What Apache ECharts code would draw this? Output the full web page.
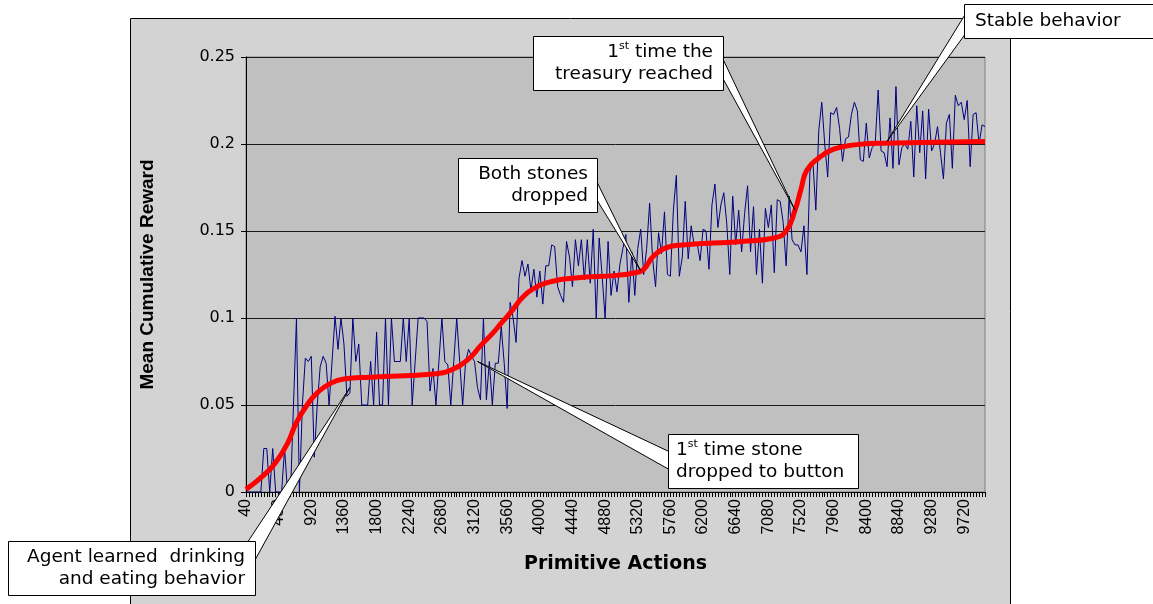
<!DOCTYPE html>
<html><head><meta charset="utf-8">
<script src="https://cdn.jsdelivr.net/npm/echarts@6/dist/echarts.min.js"></script>
<style>html,body{margin:0;padding:0;background:#fff;}#c{width:1153px;height:604px;}</style>
</head><body><div id="c"></div>
<script>
// x categories: primitive actions 40 .. 10000, step 40
const categories = [];
for (let v = 40; v <= 10000; v += 40) categories.push(String(v));

// mean cumulative reward per sample (blue)
const rewardValues = [
  0, 0, 0, 0, 0, 0, 0.025, 0.025, 0, 0.025,
  0, 0, 0, 0.025, 0, 0, 0.05, 0.1, 0, 0.05,
  0.077, 0.075, 0.078, 0.02, 0.05, 0.072, 0.078, 0.074, 0.05, 0.075,
  0.101, 0.082, 0.1, 0.085, 0.055, 0.057, 0.1, 0.075, 0.085, 0.05,
  0.05, 0.05, 0.075, 0.05, 0.092, 0.05, 0.05, 0.1, 0.05, 0.1,
  0.075, 0.075, 0.075, 0.1, 0.075, 0.1, 0.05, 0.075, 0.1, 0.1,
  0.1, 0.098, 0.058, 0.071, 0.05, 0.075, 0.1, 0.075, 0.073, 0.05,
  0.075, 0.1, 0.075, 0.05, 0.075, 0.082, 0.078, 0.075, 0.06, 0.053,
  0.1, 0.053, 0.075, 0.05, 0.074, 0.074, 0.095, 0.074, 0.048, 0.109,
  0.1, 0.086, 0.123, 0.133, 0.124, 0.131, 0.116, 0.128, 0.112, 0.127,
  0.108, 0.13, 0.13, 0.142, 0.141, 0.118, 0.113, 0.109, 0.144, 0.135,
  0.118, 0.145, 0.13, 0.145, 0.122, 0.145, 0.12, 0.151, 0.1, 0.146,
  0.124, 0.1, 0.144, 0.113, 0.127, 0.115, 0.131, 0.14, 0.148, 0.109,
  0.138, 0.113, 0.14, 0.151, 0.125, 0.14, 0.166, 0.134, 0.118, 0.149,
  0.137, 0.161, 0.125, 0.124, 0.162, 0.182, 0.124, 0.135, 0.167, 0.134,
  0.153, 0.142, 0.143, 0.133, 0.151, 0.15, 0.128, 0.165, 0.177, 0.152,
  0.165, 0.172, 0.154, 0.125, 0.17, 0.142, 0.162, 0.138, 0.16, 0.176,
  0.138, 0.164, 0.125, 0.151, 0.12, 0.163, 0.152, 0.165, 0.126, 0.168,
  0.167, 0.155, 0.13, 0.17, 0.145, 0.142, 0.142, 0.138, 0.153, 0.125,
  0.184, 0.19, 0.162, 0.208, 0.224, 0.2, 0.181, 0.218, 0.217, 0.221,
  0.209, 0.19, 0.203, 0.204, 0.217, 0.224, 0.219, 0.191, 0.19, 0.212,
  0.192, 0.198, 0.2, 0.231, 0.196, 0.195, 0.187, 0.215, 0.186, 0.233,
  0.188, 0.198, 0.2, 0.197, 0.213, 0.181, 0.222, 0.195, 0.219, 0.18,
  0.22, 0.196, 0.2, 0.21, 0.195, 0.18, 0.212, 0.217, 0.186, 0.228,
  0.222, 0.224, 0.214, 0.225, 0.187, 0.217, 0.218, 0.2, 0.211, 0.21
];

// smoothed trend (red), read at key actions
const trendActions = ['40','280','440','600','720','880','1000','1160','1360','1720','2600','2800','3040','3200','3360','3480','3640','3760','3920','4160','4480','5040','5280','5400','5520','5680','5920','6720','7160','7320','7440','7520','7600','7760','7960','8240','8640','10000'];
const trendValues  = [0.0015,0.0097,0.017,0.028,0.040,0.051,0.057,0.062,0.065,0.066,0.068,0.070,0.0765,0.084,0.091,0.097,0.105,0.1115,0.117,0.121,0.123,0.1245,0.126,0.128,0.135,0.140,0.142,0.144,0.146,0.150,0.162,0.174,0.185,0.192,0.197,0.1995,0.2005,0.2015];

// callout anchors
const noteTexts = [
  'Agent learned  drinking\nand eating behavior',
  '1{sup|st} time stone\ndropped to button',
  'Both stones\ndropped',
  '1{sup|st} time the\ntreasury reached',
  'Stable behavior'
];
const noteActions = ['1440', '3160', '5360', '7440', '8680'];
const noteValues  = [0.06, 0.075, 0.127, 0.162, 0.2015];

const chart = echarts.init(document.getElementById('c'), null, {renderer: 'canvas'});
const trendData = trendActions.map((a, i) => [a, trendValues[i]]);

chart.setOption({
  animation: false,
  backgroundColor: '#ffffff',
  grid: {left: 246, right: 168, top: 57, bottom: 112, show: true, backgroundColor: '#c0c0c0', borderColor: '#808080', borderWidth: 1},
  xAxis: {
    type: 'category', data: categories, boundaryGap: false,
    axisLine: {lineStyle: {color: '#000', width: 1}},
    axisTick: {show: true, interval: 0, length: 5, lineStyle: {color: '#000'}},
    axisLabel: {interval: 10, rotate: 90, fontFamily: 'Liberation Sans', fontSize: 16, color: '#000', margin: 7},
    splitLine: {show: false},
    name: 'Primitive Actions', nameLocation: 'middle', nameGap: 63,
    nameTextStyle: {fontFamily: 'DejaVu Sans', fontWeight: 'bold', fontSize: 19, color: '#000'}
  },
  yAxis: {
    type: 'value', min: 0, max: 0.25, interval: 0.05,
    axisLine: {show: true, lineStyle: {color: '#000', width: 1}},
    axisTick: {show: true, length: 5, lineStyle: {color: '#000'}},
    axisLabel: {fontFamily: 'DejaVu Sans', fontSize: 16, color: '#000', margin: 11},
    splitLine: {show: true, lineStyle: {color: '#1a1a1a', width: 1}},
    name: 'Mean Cumulative Reward', nameLocation: 'middle', nameGap: 89,
    nameTextStyle: {fontFamily: 'Liberation Sans', fontWeight: 'bold', fontSize: 19, color: '#000'}
  },
  series: [
    {type: 'line', data: rewardValues, symbol: 'none', lineStyle: {color: '#000080', width: 1}, z: 3},
    {type: 'line', data: trendData, symbol: 'none', smooth: 0.5, lineStyle: {color: '#ff0000', width: 5}, z: 4}
  ]
});

function tip(i) {
  return chart.convertToPixel({xAxisIndex: 0, yAxisIndex: 0}, [categories.indexOf(noteActions[i]), noteValues[i]]);
}

// box layouts: [x, y, w, h], text anchor x, align, pointer base points
const boxes = [
  {r: [8, 541, 247, 54], tx: 245, align: 'right', base: [[247, 543], [255, 560]]},
  {r: [668, 434, 190, 54], tx: 676, align: 'left', base: [[670, 452], [670, 470]]},
  {r: [458, 158, 139, 54], tx: 588, align: 'right', base: [[595, 178], [595, 197]]},
  {r: [533, 36, 190, 54], tx: 713, align: 'right', base: [[721, 55], [721, 75]]},
  {r: [964, 4, 200, 34], tx: 975, align: 'left', base: [[966, 13], [966, 33]]}
];

const els = [{
  type: 'rect', z: -5, silent: true,
  shape: {x: 130.5, y: 18.5, width: 880, height: 600},
  style: {fill: '#d3d3d3', stroke: '#000', lineWidth: 1}
}];

boxes.forEach((b, i) => {
  const t = tip(i);
  els.push({
    type: 'polygon', z: 100, silent: true,
    shape: {points: [t, b.base[0], b.base[1]]},
    style: {fill: '#fff', stroke: '#000', lineWidth: 1}
  });
  els.push({
    type: 'rect', z: 101, silent: true,
    shape: {x: b.r[0] + 0.5, y: b.r[1] + 0.5, width: b.r[2], height: b.r[3]},
    style: {fill: '#fff', stroke: '#000', lineWidth: 1}
  });
  els.push({
    type: 'text', z: 102, silent: true,
    x: b.tx, y: b.r[1] + b.r[3] / 2,
    style: {
      text: noteTexts[i], fill: '#000', fontFamily: 'DejaVu Sans', fontSize: 18.5,
      align: b.align, verticalAlign: 'middle', lineHeight: 22,
      rich: {sup: {fontSize: 11, fontFamily: 'DejaVu Sans', fill: '#000', verticalAlign: 'top', lineHeight: 14}}
    }
  });
});

chart.setOption({graphic: {elements: els}});
</script></body></html>
